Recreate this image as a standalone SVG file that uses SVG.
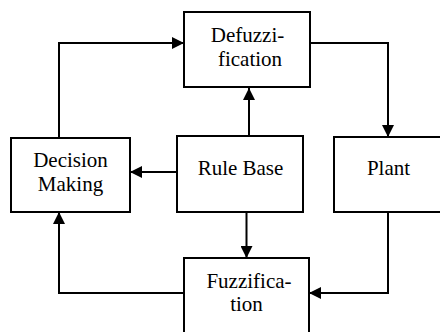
<svg xmlns="http://www.w3.org/2000/svg" width="440" height="332" viewBox="0 0 440 332">
<style>
.box{fill:#fff;stroke:#000;stroke-width:2}
.lbl{font-family:'Liberation Serif','DejaVu Serif',serif;font-size:21px;fill:#000;text-anchor:middle}
.con{fill:none;stroke:#000;stroke-width:2;marker-end:url(#ah)}
</style>
<defs>
<marker id="ah" viewBox="0 0 12 12" refX="12" refY="6" markerWidth="12" markerHeight="12" markerUnits="userSpaceOnUse" orient="auto">
<path d="M0,0 L12,6 L0,12 Z" fill="#000"/>
</marker>
</defs>
<rect width="440" height="332" fill="#fff"/>
<g id="connectors">
<path class="con" d="M59,138 V43 H184"/>
<path class="con" d="M249,136 V88"/>
<path class="con" d="M310,43 H388 V137"/>
<path class="con" d="M177,172 H130"/>
<path class="con" d="M246.5,212 V258"/>
<path class="con" d="M388,212 V293 H309"/>
<path class="con" d="M184,293 H59 V212"/>
</g>
<g id="defuzzification">
<rect class="box" x="184" y="12" width="126" height="75"/>
<text class="lbl" font-family="Liberation Serif, serif" x="247.5" y="42">Defuzzi-</text>
<text class="lbl" font-family="Liberation Serif, serif" x="250" y="66">fication</text>
</g>
<g id="decision-making">
<rect class="box" x="11" y="138" width="119" height="74"/>
<text class="lbl" font-family="Liberation Serif, serif" x="70.5" y="167">Decision</text>
<text class="lbl" font-family="Liberation Serif, serif" x="70.5" y="191">Making</text>
</g>
<g id="rule-base">
<rect class="box" x="177" y="136" width="126" height="76"/>
<text class="lbl" font-family="Liberation Serif, serif" x="240.5" y="175">Rule Base</text>
</g>
<g id="plant">
<rect class="box" x="334" y="137" width="120" height="75"/>
<text class="lbl" font-family="Liberation Serif, serif" x="388.5" y="175">Plant</text>
</g>
<g id="fuzzification">
<rect class="box" x="184" y="258" width="125" height="90"/>
<text class="lbl" font-family="Liberation Serif, serif" x="249" y="288">Fuzzifica-</text>
<text class="lbl" font-family="Liberation Serif, serif" x="246.5" y="311">tion</text>
</g>
</svg>
